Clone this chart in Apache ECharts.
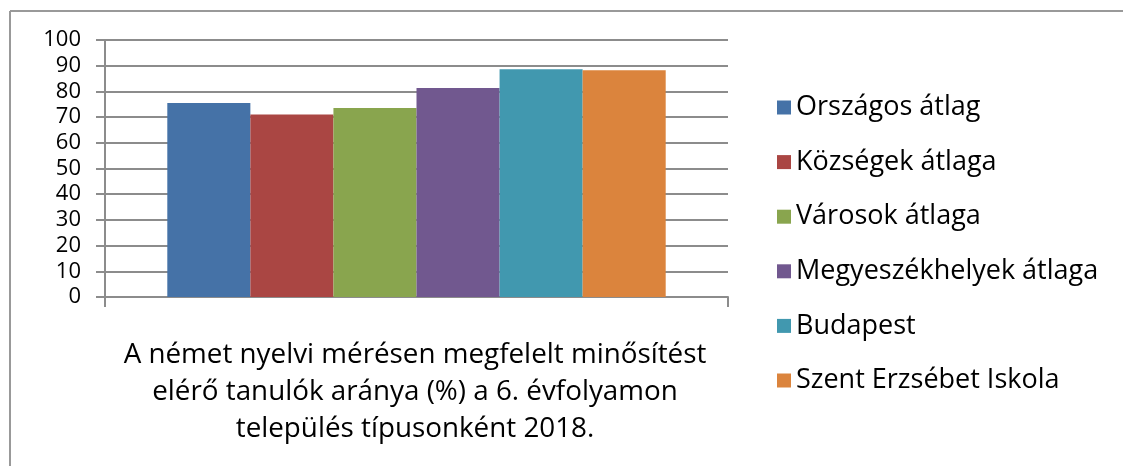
<!doctype html>
<html lang="hu">
<head>
    <meta charset="UTF-8">
    <title>Német nyelvi mérés 2018</title>
    <style>
        html, body { margin: 0; padding: 0; background: #fff; }
    </style>
</head>
<body>
    <script src="https://cdn.jsdelivr.net/npm/echarts@6/dist/echarts.min.js"></script>
    <div id="chart" style="width: 1123px; height: 466px"></div>

    <script>
        // adatok
        var categories = [''];
        var seriesNames = ['Országos átlag', 'Községek átlaga', 'Városok átlaga',
            'Megyeszékhelyek átlaga', 'Budapest', 'Szent Erzsébet Iskola'];
        var seriesValues = [75.5, 71.0, 73.5, 81.3, 88.6, 88.2];
        var colors = ['#4572A7', '#AA4643', '#89A54E', '#71588F', '#4198AF', '#DB843D'];
        var yTicks = [0, 100, 10];
        var titleText = 'A német nyelvi mérésen megfelelt minősítést\nelérő tanulók aránya (%) a 6. évfolyamon\ntelepülés típusonként 2018.';

        var font = '"Open Sans", "Liberation Sans", sans-serif';
        var gray = '#8c8c8c';

        var series = seriesNames.map(function (name, i) {
            return {
                name: name,
                type: 'bar',
                data: [seriesValues[i]],
                itemStyle: { color: colors[i] },
                barGap: '0%',
                barCategoryGap: '20%'
            };
        });

        var option = {
            animation: false,
            grid: { left: 105, right: 395, top: 40, bottom: 169 },
            legend: {
                orient: 'vertical',
                left: 772,
                top: 89,
                itemWidth: 14,
                itemHeight: 14,
                itemGap: 27.6,
                icon: 'rect',
                textStyle: { fontFamily: font, fontSize: 27, color: '#000' },
                data: seriesNames
            },
            xAxis: {
                type: 'category',
                data: categories,
                axisLine: { lineStyle: { color: gray, width: 2 } },
                axisTick: { show: true, length: 10, lineStyle: { color: gray, width: 2 } },
                axisLabel: { show: false }
            },
            yAxis: {
                type: 'value',
                min: yTicks[0],
                max: yTicks[1],
                interval: yTicks[2],
                axisLine: { show: true, lineStyle: { color: gray, width: 2 } },
                axisTick: { show: true, length: 9, lineStyle: { color: gray, width: 2 } },
                splitLine: { lineStyle: { color: gray, width: 2 } },
                axisLabel: { margin: 24, fontFamily: font, fontSize: 22, color: '#000' }
            },
            graphic: [
                { type: 'line', shape: { x1: 10, y1: 11, x2: 1123, y2: 11 }, style: { stroke: '#999', lineWidth: 2 } },
                { type: 'line', shape: { x1: 10, y1: 11, x2: 10, y2: 466 }, style: { stroke: '#999', lineWidth: 2 } },
                {
                    type: 'text', x: 415, y: 392,
                    style: {
                        text: titleText, align: 'center', verticalAlign: 'middle',
                        fontFamily: font, fontSize: 27.8, lineHeight: 37, fill: '#000'
                    }
                }
            ],
            series: series
        };

        var chart = echarts.init(document.getElementById('chart'));
        chart.setOption(option);
    </script>
</body>
</html>
